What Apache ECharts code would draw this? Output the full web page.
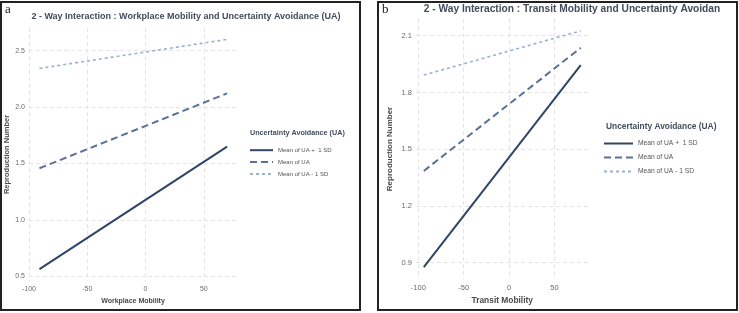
<!DOCTYPE html>
<html><head><meta charset="utf-8">
<script src="https://cdn.jsdelivr.net/npm/echarts@6/dist/echarts.min.js"></script>
<style>html,body{margin:0;padding:0;background:#fff}#c{width:739px;height:313px}</style>
</head><body><div id="c"></div>
<script>
// Panel a: Workplace Mobility
const xA = [-91, 70];
const aPlus = [0.564, 1.649];
const aMean = [1.457, 2.121];
const aMinus = [2.342, 2.599];
const xTicksA = [-100, -50, 0, 50];
const yTicksA = [0.5, 1.0, 1.5, 2.0, 2.5];
// Panel b: Transit Mobility
const xB = [-94, 79];
const bPlus = [0.876, 1.944];
const bMean = [1.385, 2.036];
const bMinus = [1.892, 2.126];
const xTicksB = [-100, -50, 0, 50];
const yTicksB = [0.9, 1.2, 1.5, 1.8, 2.1];
const seriesNames = ['Mean of UA +  1 SD', 'Mean of UA', 'Mean of UA - 1 SD'];
const titleA = '2 - Way Interaction : Workplace Mobility and Uncertainty Avoidance (UA)';
const titleB = '2 - Way Interaction : Transit Mobility and Uncertainty Avoidan';
const legendTitle = 'Uncertainty Avoidance (UA)';

const colors = ['#2f4467', '#5b7198', '#9ab0d2'];
const types = ['solid', [7, 4], [3, 3]];
const widths = [2, 2, 1.6];

function pairs(xs, ys) { return xs.map((x, i) => [x, ys[i]]); }

const FONT = 'Liberation Sans, Arial, sans-serif';
function xAxis(idx, min, max, ticks, name, gap, fs, nfs) {
  return {
    type: 'value', gridIndex: idx, min: min, max: max,
    name: name, nameLocation: 'middle', nameGap: gap,
    nameTextStyle: {fontFamily: FONT, fontSize: nfs, fontWeight: 'bold', color: '#4a4a4a'},
    axisLine: {show: false}, axisTick: {show: false, customValues: ticks},
    axisLabel: {customValues: ticks, fontFamily: FONT, fontSize: fs, color: '#6a6a6a', margin: 5},
    splitLine: {show: true, lineStyle: {color: '#e4e4e4', type: [4, 3], width: 1}}
  };
}
function yAxis(idx, min, max, ticks, gap, fs, nfs) {
  return {
    type: 'value', gridIndex: idx, min: min, max: max,
    name: 'Reproduction Number', nameLocation: 'middle', nameGap: gap, nameRotate: 90,
    nameTextStyle: {fontFamily: FONT, fontSize: nfs, fontWeight: 'bold', color: '#4a4a4a'},
    axisLine: {show: false}, axisTick: {show: false, customValues: ticks},
    axisLabel: {customValues: ticks, fontFamily: FONT, fontSize: fs, color: '#6a6a6a', margin: 4,
      formatter: v => v.toFixed(1)},
    splitLine: {show: true, lineStyle: {color: '#e4e4e4', type: [4, 3], width: 1}}
  };
}
function mk(i, gi, xs, ys) {
  return {
    name: seriesNames[i], type: 'line', xAxisIndex: gi, yAxisIndex: gi,
    data: pairs(xs, ys), symbol: 'none', silent: true,
    lineStyle: {color: colors[i], type: types[i], width: widths[i]},
    itemStyle: {color: colors[i]}
  };
}

const chart = echarts.init(document.getElementById('c'), null, {renderer: 'canvas'});
chart.setOption({
  animation: false,
  backgroundColor: '#fff',
  title: [
    {text: titleA, left: 186, top: 12, textAlign: 'center', padding: 0,
     textStyle: {fontFamily: FONT, fontSize: 9, fontWeight: 'bold', color: '#434c5c'}},
    {text: titleB, left: 572, top: 4, textAlign: 'center', padding: 0,
     textStyle: {fontFamily: FONT, fontSize: 10.2, fontWeight: 'bold', color: '#434c5c'}},
    {text: legendTitle, left: 250, top: 130, padding: 0,
     textStyle: {fontFamily: FONT, fontSize: 7.2, fontWeight: 'bold', color: '#434c5c'}},
    {text: legendTitle, left: 606, top: 123, padding: 0,
     textStyle: {fontFamily: FONT, fontSize: 8.4, fontWeight: 'bold', color: '#434c5c'}}
  ],
  legend: [
    {data: seriesNames, orient: 'vertical', left: 249, top: 147, padding: 0, itemWidth: 23, itemHeight: 8, itemGap: 5.5,
     itemStyle: {opacity: 0},
     textStyle: {fontFamily: FONT, fontSize: 6, color: '#555'}},
    {data: seriesNames, orient: 'vertical', left: 603, top: 140, padding: 0, itemWidth: 29, itemHeight: 8, itemGap: 7,
     itemStyle: {opacity: 0},
     textStyle: {fontFamily: FONT, fontSize: 6.7, color: '#555'}}
  ],
  grid: [
    {left: 29, top: 28, width: 208, height: 253},
    {left: 416, top: 19, width: 172.5, height: 260}
  ],
  xAxis: [
    xAxis(0, -100, 78.5, xTicksA, 'Workplace Mobility', 17, 7, 7),
    xAxis(1, -102.6, 87.6, xTicksB, 'Transit Mobility', 18, 7.5, 8.4)
  ],
  yAxis: [
    yAxis(0, 0.458, 2.70, yTicksA, 15, 7, 7.5),
    yAxis(1, 0.8135, 2.1885, yTicksB, 22, 7.5, 8)
  ],
  series: [
    mk(0, 0, xA, aPlus), mk(1, 0, xA, aMean), mk(2, 0, xA, aMinus),
    mk(0, 1, xB, bPlus), mk(1, 1, xB, bMean), mk(2, 1, xB, bMinus)
  ],
  graphic: [
    {type: 'rect', shape: {x: 1, y: 2, width: 359, height: 308}, style: {fill: 'none', stroke: '#222', lineWidth: 2}, silent: true},
    {type: 'rect', shape: {x: 378, y: 2, width: 359, height: 308}, style: {fill: 'none', stroke: '#222', lineWidth: 2}, silent: true},
    {type: 'text', left: 5, top: 3, style: {text: 'a', font: '13px "Liberation Serif", serif', fill: '#222'}},
    {type: 'text', left: 382, top: 3, style: {text: 'b', font: '13px "Liberation Serif", serif', fill: '#222'}}
  ]
});
</script></body></html>
